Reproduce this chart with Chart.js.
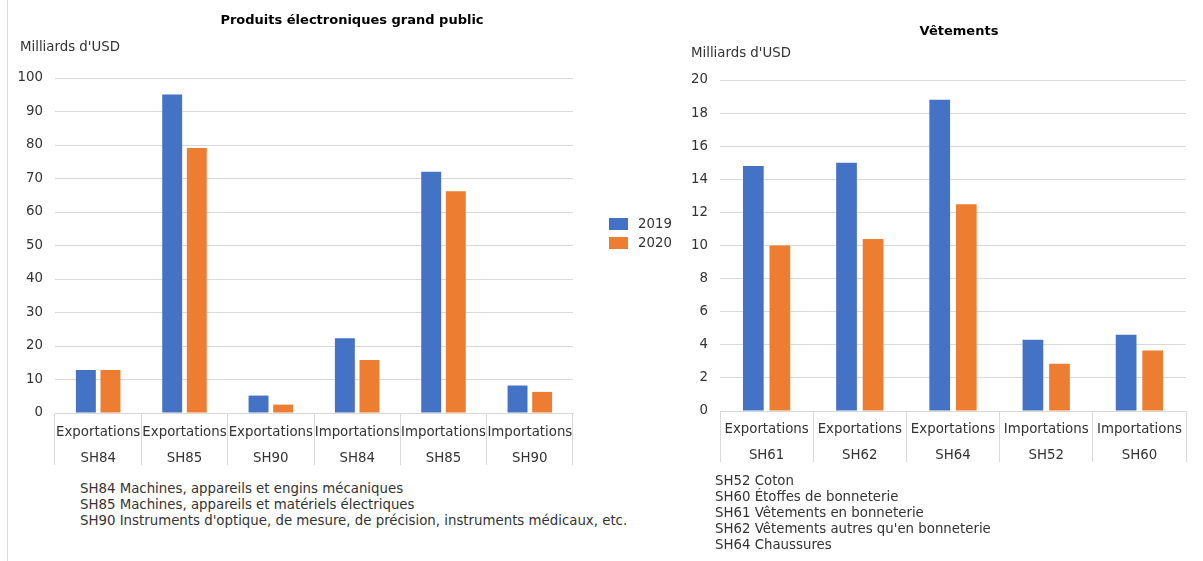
<!DOCTYPE html>
<html lang="fr">
<head>
<meta charset="utf-8">
<title>Produits électroniques grand public et Vêtements</title>
<script src="https://cdn.jsdelivr.net/npm/chart.js@4/dist/chart.umd.min.js"></script>
<style>
  html, body { margin: 0; padding: 0; background: #fff; }
  #page { position: relative; width: 1203px; height: 561px; overflow: hidden;
          font-family: "DejaVu Sans", Verdana, sans-serif; color: #333; }
  .box { position: absolute; }
  .title { position: absolute; font-weight: bold; font-size: 13px; color: #000;
           white-space: nowrap; transform: translateX(-50%); line-height: 16px; }
  .unit { position: absolute; font-size: 13.33px; line-height: 16px; white-space: nowrap; }
  .notes { position: absolute; font-size: 13.33px; line-height: 16px; white-space: nowrap; }
  .leg { position: absolute; font-size: 13.33px; line-height: 16px; }
  .leg span.sw { position: absolute; width: 19px; height: 12px; left: 0; }
  .leg span.tx { position: absolute; left: 29px; top: 0; white-space: nowrap; }
  .sep { position: absolute; left: 7px; top: 0; width: 1px; height: 561px; background: #d9d9d9; }
</style>
</head>
<body>
<div id="page">
  <div class="sep"></div>

  <div class="box" style="left:0;top:0;width:600px;height:475px"><canvas id="elec"></canvas></div>
  <div class="box" style="left:600px;top:0;width:603px;height:475px"><canvas id="vet"></canvas></div>

  <div class="title" style="left:352px;top:12px">Produits électroniques grand public</div>
  <div class="unit" style="left:20px;top:39px">Milliards d'USD</div>

  <div class="title" style="left:959px;top:23px">Vêtements</div>
  <div class="unit" style="left:691px;top:45px">Milliards d'USD</div>

  <div id="legend" class="leg" style="left:609px;top:216px"></div>

  <div class="notes" style="left:80px;top:481px">
    SH84 Machines, appareils et engins mécaniques<br>
    SH85 Machines, appareils et matériels électriques<br>
    SH90 Instruments d'optique, de mesure, de précision, instruments médicaux, etc.
  </div>
  <div class="notes" style="left:715px;top:473px">
    SH52 Coton<br>
    SH60 Étoffes de bonneterie<br>
    SH61 Vêtements en bonneterie<br>
    SH62 Vêtements autres qu'en bonneterie<br>
    SH64 Chaussures
  </div>
</div>

<script>
// ---- Data (milliards d'USD) ----
const years = ['2019', '2020'];
const seriesColors = ['#4472C4', '#ED7D31'];

// Produits électroniques grand public
const elecFlows = ['Exportations', 'Exportations', 'Exportations', 'Importations', 'Importations', 'Importations'];
const elecCodes = ['SH84', 'SH85', 'SH90', 'SH84', 'SH85', 'SH90'];
const elec2019 = [12.8, 95.1, 5.2, 22.3, 72.0, 8.2];
const elec2020 = [12.8, 79.1, 2.5, 15.8, 66.2, 6.3];
const elecTicks = { min: 0, max: 100, step: 10 };

// Vêtements
const vetFlows = ['Exportations', 'Exportations', 'Exportations', 'Importations', 'Importations'];
const vetCodes = ['SH61', 'SH62', 'SH64', 'SH52', 'SH60'];
const vet2019 = [14.8, 15.0, 18.8, 4.3, 4.6];
const vet2020 = [10.0, 10.4, 12.5, 2.85, 3.65];
const vetTicks = { min: 0, max: 20, step: 2 };

// ---- Shared styling ----
const FONT = "'DejaVu Sans', Verdana, sans-serif";
const TEXT = '#333333';
const GRID = '#d9d9d9';

function makeChart(id, flows, codes, v2019, v2020, ticks, geo) {
  const labels = flows.map((f, i) => [f, codes[i]]);
  return new Chart(document.getElementById(id), {
    type: 'bar',
    data: {
      labels,
      datasets: [v2019, v2020].map((vals, k) => ({
        label: years[k],
        data: vals,
        backgroundColor: seriesColors[k],
        borderWidth: 0,
        categoryPercentage: geo.catPct,
        barPercentage: geo.barPct
      }))
    },
    options: {
      responsive: true,
      maintainAspectRatio: false,
      animation: false,
      events: [],
      layout: { padding: geo.padding },
      plugins: { legend: { display: false }, title: { display: false }, tooltip: { enabled: false } },
      scales: {
        x: {
          offset: true,
          grid: {
            offset: true,
            drawOnChartArea: false,
            drawTicks: true,
            tickLength: geo.tickLength,
            color: GRID,
            lineWidth: 1
          },
          border: { display: true, color: GRID, width: 1 },
          ticks: {
            color: TEXT,
            font: { family: FONT, size: 13.33, lineHeight: '26px' },
            padding: geo.labelPad,
            autoSkip: false,
            maxRotation: 0,
            minRotation: 0
          },
          afterFit: s => { s.height = 60; }
        },
        y: {
          min: ticks.min,
          max: ticks.max,
          grid: { color: GRID, lineWidth: 1, drawTicks: false },
          border: { display: false },
          ticks: {
            stepSize: ticks.step,
            color: TEXT,
            font: { family: FONT, size: 13.33 },
            padding: 12
          },
          afterFit: s => { s.width = geo.yWidth; }
        }
      }
    }
  });
}

makeChart('elec', elecFlows, elecCodes, elec2019, elec2020, elecTicks, {
  padding: { top: 78, right: 27, bottom: 2, left: 0 },
  yWidth: 55, tickLength: 52, labelPad: -45, catPct: 0.57, barPct: 0.81
});

makeChart('vet', vetFlows, vetCodes, vet2019, vet2020, vetTicks, {
  padding: { top: 80, right: 17, bottom: 4, left: 0 },
  yWidth: 120, tickLength: 51, labelPad: -45, catPct: 0.57, barPct: 0.78
});

// Shared legend for both panels
const legend = document.getElementById('legend');
years.forEach((y, k) => {
  const row = document.createElement('div');
  row.style.position = 'absolute';
  row.style.top = (k * 19) + 'px';
  row.style.left = '0';
  row.innerHTML = '<span class="sw" style="top:2px;background:' + seriesColors[k] + '"></span>' +
                  '<span class="tx">' + y + '</span>';
  legend.appendChild(row);
});
</script>
</body>
</html>
